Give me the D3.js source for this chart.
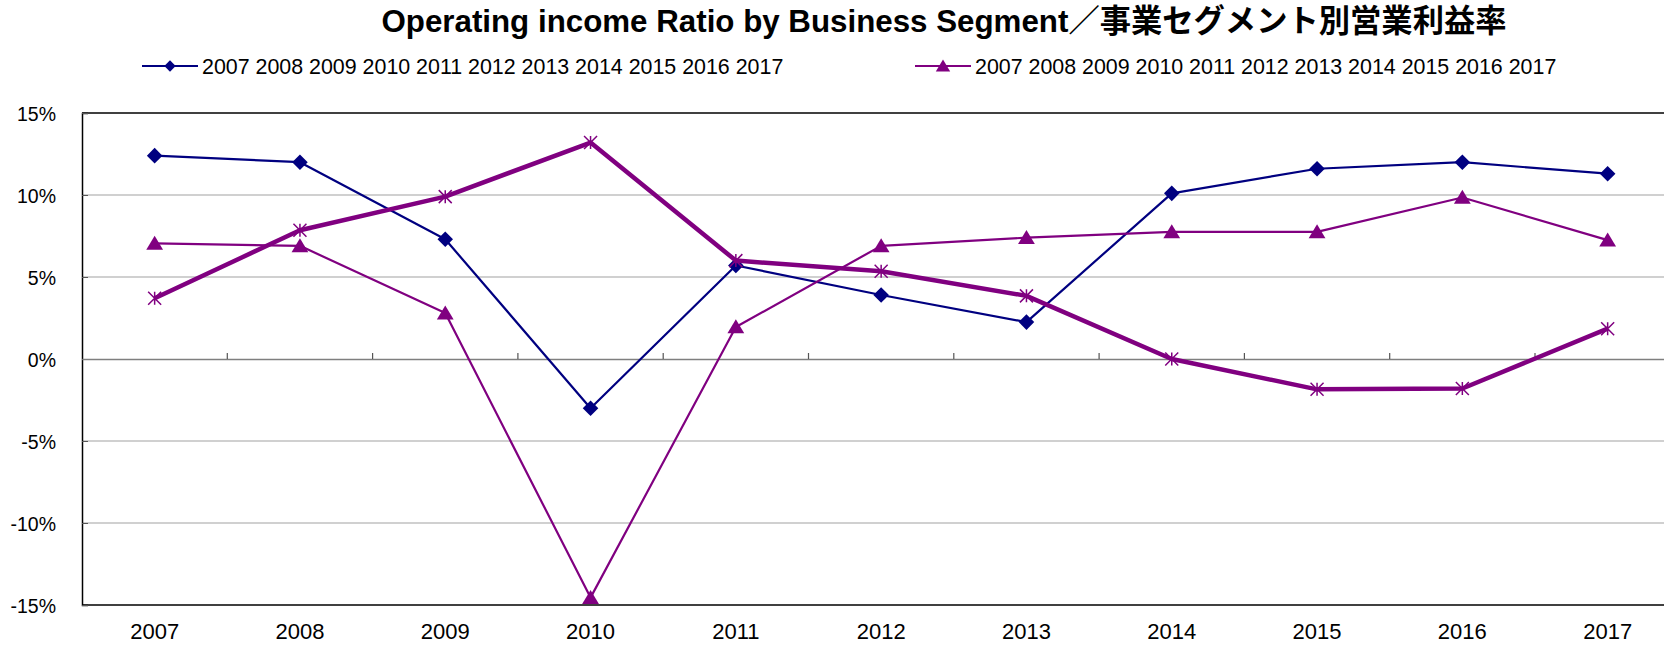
<!DOCTYPE html>
<html lang="en">
<head>
<meta charset="UTF-8">
<title>Operating income Ratio by Business Segment</title>
<style>
    html, body { margin: 0; padding: 0; background: #fff; }
    svg { display: block; }
    text { font-family: "Liberation Sans", Arial, "Noto Sans CJK JP", sans-serif; }
</style>
</head>
<body>
<svg id="chart" width="1664" height="645"></svg>

<script src="https://d3js.org/d3.v7.min.js"></script>
<script>
    // categories and series (percent values)
    const years = ["2007", "2008", "2009", "2010", "2011", "2012", "2013", "2014", "2015", "2016", "2017"];
    const seriesDiamond = [12.4, 12.0, 7.3, -3.0, 5.7, 3.9, 2.25, 10.1, 11.6, 12.0, 11.3];
    const seriesTriangle = [7.05, 6.9, 2.8, -14.55, 1.95, 6.9, 7.4, 7.75, 7.75, 9.85, 7.25];
    const seriesStar = [3.7, 7.85, 9.9, 13.2, 6.0, 5.35, 3.85, 0.0, -1.85, -1.8, 1.85];
    const yTicks = [-15, -10, -5, 0, 5, 10, 15];
    const legendLabel = years.join(" ");

    const navy = "#000080", purple = "#800080";

    const svg = d3.select("#chart");

    // plot area (right edge runs past the picture, like the original)
    const plotLeft = 82, plotTop = 113, plotBottom = 605, step = 145.3;
    const x = d3.scaleBand().domain(years).range([plotLeft, plotLeft + step * years.length]).padding(0);
    const y = d3.scaleLinear().domain([-15, 15]).range([plotBottom, plotTop]);
    const cx = d => x(d) + x.bandwidth() / 2;

    // title
    svg.append("text")
        .attr("x", 944).attr("y", 32)
        .attr("text-anchor", "middle")
        .style("font-size", "31.3px").style("font-weight", "bold")
        .text("Operating income Ratio by Business Segment／事業セグメント別営業利益率");

    // gridlines
    svg.append("g").selectAll("line")
        .data(yTicks.filter(t => t !== 0 && Math.abs(t) !== 15))
        .enter().append("line")
        .attr("x1", plotLeft).attr("x2", 1664)
        .attr("y1", d => y(d)).attr("y2", d => y(d))
        .style("stroke", "#c0c0c0").style("stroke-width", 1.5);

    // top and bottom border
    [15, -15].forEach(v => {
        svg.append("line")
            .attr("x1", plotLeft).attr("x2", 1664)
            .attr("y1", y(v)).attr("y2", y(v))
            .style("stroke", "#000").style("stroke-width", 1.5);
    });

    // y axis
    const yAxis = svg.append("g")
        .attr("transform", `translate(${plotLeft},0)`)
        .call(d3.axisLeft(y).tickValues(yTicks).tickSize(-6).tickPadding(26).tickFormat(d => d + "%"));
    yAxis.select(".domain").style("stroke", "#000").style("stroke-width", 1.5);
    yAxis.selectAll(".tick line").style("stroke", "#555");
    yAxis.selectAll("text").style("font-size", "19.5px").style("fill", "#000")
        .attr("dy", "0.36em");

    // category axis crossing at 0%
    const xAxis = svg.append("g")
        .attr("transform", `translate(0,${y(0)})`)
        .call(d3.axisTop(x).tickSize(0).tickFormat(""));
    xAxis.select(".domain").style("stroke", "#7f7f7f").style("stroke-width", 1.5);
    svg.append("g").selectAll("line")
        .data(years.slice(1))
        .enter().append("line")
        .attr("x1", d => x(d)).attr("x2", d => x(d))
        .attr("y1", y(0)).attr("y2", y(0) - 6)
        .style("stroke", "#555").style("stroke-width", 1.2);

    // category labels at bottom
    svg.append("g").selectAll("text")
        .data(years)
        .enter().append("text")
        .attr("x", d => cx(d)).attr("y", 639)
        .attr("text-anchor", "middle")
        .style("font-size", "22px")
        .text(d => d);

    const line = d3.line().x((d, i) => cx(years[i])).y(d => y(d));

    function drawMarker(g, type, color, size) {
        if (type === "diamond") {
            g.append("path").attr("d", d3.symbol(d3.symbolSquare, size * size)())
                .attr("transform", "rotate(45)").style("fill", color);
        } else if (type === "triangle") {
            const h = size;
            g.append("path").attr("d", `M0,${-h * 0.55}L${h * 0.6},${h * 0.45}L${-h * 0.6},${h * 0.45}Z`)
                .style("fill", color);
        } else {
            const r = size / 2;
            g.append("path")
                .attr("d", `M${-r},${-r}L${r},${r}M${-r},${r}L${r},${-r}M0,${-r}L0,${r}`)
                .style("stroke", color).style("stroke-width", 1.5).style("fill", "none");
        }
    }

    function drawSeries(values, color, width, type, size) {
        svg.append("path").datum(values)
            .attr("d", line)
            .style("fill", "none").style("stroke", color).style("stroke-width", width)
            .style("stroke-linejoin", "round");
        svg.append("g").selectAll("g")
            .data(values)
            .enter().append("g")
            .attr("transform", (d, i) => `translate(${cx(years[i])},${y(d)})`)
            .each(function () { drawMarker(d3.select(this), type, color, size); });
    }

    drawSeries(seriesDiamond, navy, 2.2, "diamond", 11);
    drawSeries(seriesTriangle, purple, 2.2, "triangle", 14);
    drawSeries(seriesStar, purple, 4.5, "star", 13);

    // legend
    const legendItems = [
        {x: 142, color: navy, type: "diamond", size: 8},
        {x: 915, color: purple, type: "triangle", size: 12}
    ];
    legendItems.forEach(item => {
        const g = svg.append("g").attr("transform", `translate(${item.x},66)`);
        g.append("line").attr("x1", 0).attr("x2", 56)
            .style("stroke", item.color).style("stroke-width", 2.2);
        drawMarker(g.append("g").attr("transform", "translate(28,0)"), item.type, item.color, item.size);
        g.append("text").attr("x", 60).attr("y", 0).attr("dy", "0.36em")
            .style("font-size", "21.4px")
            .text(legendLabel);
    });
</script>
</body>
</html>
